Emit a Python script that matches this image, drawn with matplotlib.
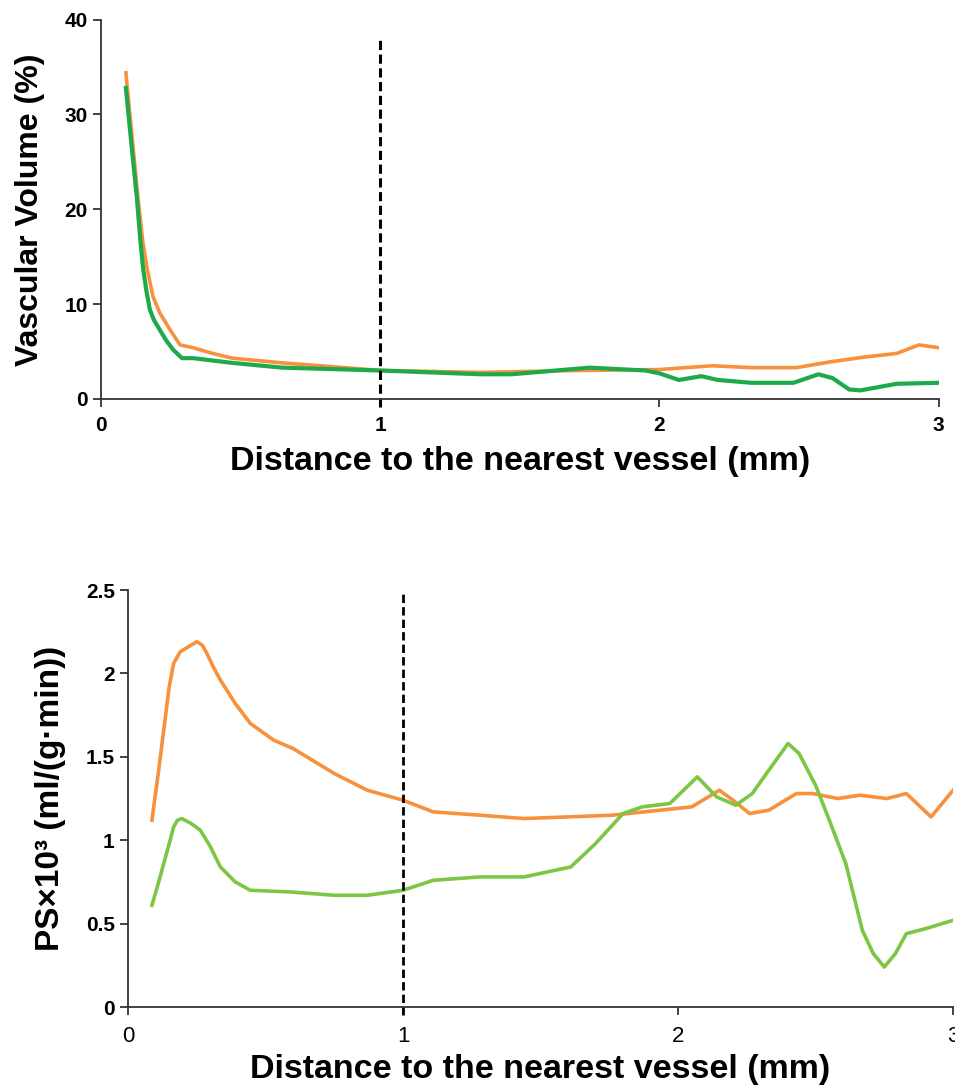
import matplotlib.pyplot as plt

plt.rcParams['font.family'] = ['Liberation Sans', 'DejaVu Sans']

# top panel: vascular volume (%)
vv_orange_x = [0.089, 0.11, 0.133, 0.15, 0.164, 0.186, 0.21, 0.247, 0.283, 0.33, 0.40, 0.47, 0.65,
               0.83, 1.0, 1.36, 1.71, 2.0, 2.19, 2.33, 2.49, 2.61, 2.73, 2.85, 2.93, 3.0]
vv_orange_y = [34.4, 28.0, 21.0, 16.5, 13.9, 10.8, 9.1, 7.3, 5.7, 5.4, 4.8, 4.3, 3.8,
               3.4, 3.0, 2.8, 3.0, 3.1, 3.5, 3.3, 3.3, 3.9, 4.4, 4.8, 5.7, 5.4]
vv_green_x = [0.089, 0.11, 0.129, 0.14, 0.15, 0.163, 0.175, 0.19, 0.21, 0.235, 0.258, 0.29, 0.33,
              0.47, 0.65, 1.0, 1.36, 1.47, 1.75, 1.95, 2.0, 2.07, 2.15, 2.21, 2.33, 2.48, 2.57,
              2.62, 2.68, 2.72, 2.85, 3.0]
vv_green_y = [32.8, 26.5, 21.0, 17.0, 13.9, 11.3, 9.4, 8.3, 7.3, 6.1, 5.2, 4.3, 4.3,
              3.8, 3.3, 3.0, 2.6, 2.6, 3.3, 3.0, 2.7, 2.0, 2.4, 2.0, 1.7, 1.7, 2.6,
              2.2, 1.0, 0.9, 1.6, 1.7]

# bottom panel: PS x 10^3
ps_orange_x = [0.087, 0.11, 0.13, 0.15, 0.166, 0.19, 0.22, 0.25, 0.27, 0.287, 0.31, 0.336, 0.39,
               0.445, 0.53, 0.60, 0.75, 0.87, 1.0, 1.11, 1.28, 1.44, 1.76, 2.05, 2.15, 2.20,
               2.26, 2.33, 2.43, 2.49, 2.58, 2.66, 2.76, 2.83, 2.92, 3.0]
ps_orange_y = [1.12, 1.40, 1.66, 1.92, 2.06, 2.13, 2.16, 2.19, 2.17, 2.12, 2.04, 1.96, 1.82,
               1.70, 1.60, 1.55, 1.40, 1.30, 1.24, 1.17, 1.15, 1.13, 1.15, 1.20, 1.30, 1.24,
               1.16, 1.18, 1.28, 1.28, 1.25, 1.27, 1.25, 1.28, 1.14, 1.30]
ps_green_x = [0.087, 0.11, 0.13, 0.15, 0.166, 0.18, 0.196, 0.23, 0.263, 0.30, 0.336, 0.39, 0.445,
              0.59, 0.75, 0.87, 1.0, 1.11, 1.28, 1.44, 1.61, 1.70, 1.80, 1.87, 1.97, 2.07,
              2.14, 2.21, 2.27, 2.33, 2.40, 2.44, 2.50, 2.55, 2.61, 2.67, 2.71, 2.75, 2.79,
              2.83, 2.90, 3.0]
ps_green_y = [0.61, 0.74, 0.86, 0.98, 1.08, 1.12, 1.13, 1.10, 1.06, 0.96, 0.84, 0.75, 0.70,
              0.69, 0.67, 0.67, 0.70, 0.76, 0.78, 0.78, 0.84, 0.98, 1.16, 1.20, 1.22, 1.38,
              1.26, 1.21, 1.28, 1.42, 1.58, 1.52, 1.33, 1.12, 0.86, 0.46, 0.32, 0.24, 0.32,
              0.44, 0.47, 0.52]

orange = '#F7913D'
green_dark = '#1EAA4A'
green_light = '#7CC644'

fig = plt.figure(figsize=(9.55, 10.9), dpi=100)

# ---- top panel ----
ax1 = fig.add_axes([0.1058, 0.634, 0.877, 0.348])
ax1.plot(vv_orange_x, vv_orange_y, color=orange, lw=2.6, solid_joinstyle='round')
ax1.plot(vv_green_x, vv_green_y, color=green_dark, lw=3.0, solid_joinstyle='round')
ax1.plot([1, 1], [-0.8, 37.8], color='black', lw=2.2, ls=(0, (3, 1.5)), clip_on=False)
ax1.set_xlim(0, 3)
ax1.set_ylim(0, 40)
ax1.set_xticks([0, 1, 2, 3])
ax1.set_yticks([0, 10, 20, 30, 40])
ax1.set_xlabel('Distance to the nearest vessel (mm)', fontsize=24.5, fontweight='bold', labelpad=8)
ax1.set_ylabel('Vascular Volume (%)', fontsize=23, fontweight='bold', labelpad=14)

# ---- bottom panel ----
ax2 = fig.add_axes([0.134, 0.0761, 0.864, 0.3826])
ax2.plot(ps_orange_x, ps_orange_y, color=orange, lw=2.6, solid_joinstyle='round')
ax2.plot(ps_green_x, ps_green_y, color=green_light, lw=2.6, solid_joinstyle='round')
ax2.plot([1, 1], [-0.05, 2.5], color='black', lw=2.0, ls=(0, (3, 1.5)), clip_on=False)
ax2.set_xlim(0, 3)
ax2.set_ylim(0, 2.5)
ax2.set_xticks([0, 1, 2, 3])
ax2.set_yticks([0, 0.5, 1, 1.5, 2, 2.5])
ax2.set_yticklabels(['0', '0.5', '1', '1.5', '2', '2.5'])
ax2.set_xlabel('Distance to the nearest vessel (mm)', fontsize=24.5, fontweight='bold', labelpad=5)
ax2.set_ylabel('PS×10³ (ml/(g·min))', fontsize=24, fontweight='bold', labelpad=14)

for ax in (ax1, ax2):
    ax.spines['top'].set_visible(False)
    ax.spines['right'].set_visible(False)
    ax.spines['left'].set_color('#333333')
    ax.spines['bottom'].set_color('#333333')
    ax.spines['left'].set_linewidth(1.3)
    ax.spines['bottom'].set_linewidth(1.3)
    ax.tick_params(direction='out', length=6, width=1.3, color='#333333')

ax1.tick_params(axis='x', pad=6)
for lab in ax1.get_xticklabels() + ax1.get_yticklabels():
    lab.set_fontsize(15)
    lab.set_fontweight('bold')
for lab in ax2.get_yticklabels():
    lab.set_fontsize(15)
    lab.set_fontweight('bold')
for lab in ax2.get_xticklabels():
    lab.set_fontsize(16)
ax2.tick_params(axis='x', pad=8)

fig.savefig('out.png', dpi=100)
